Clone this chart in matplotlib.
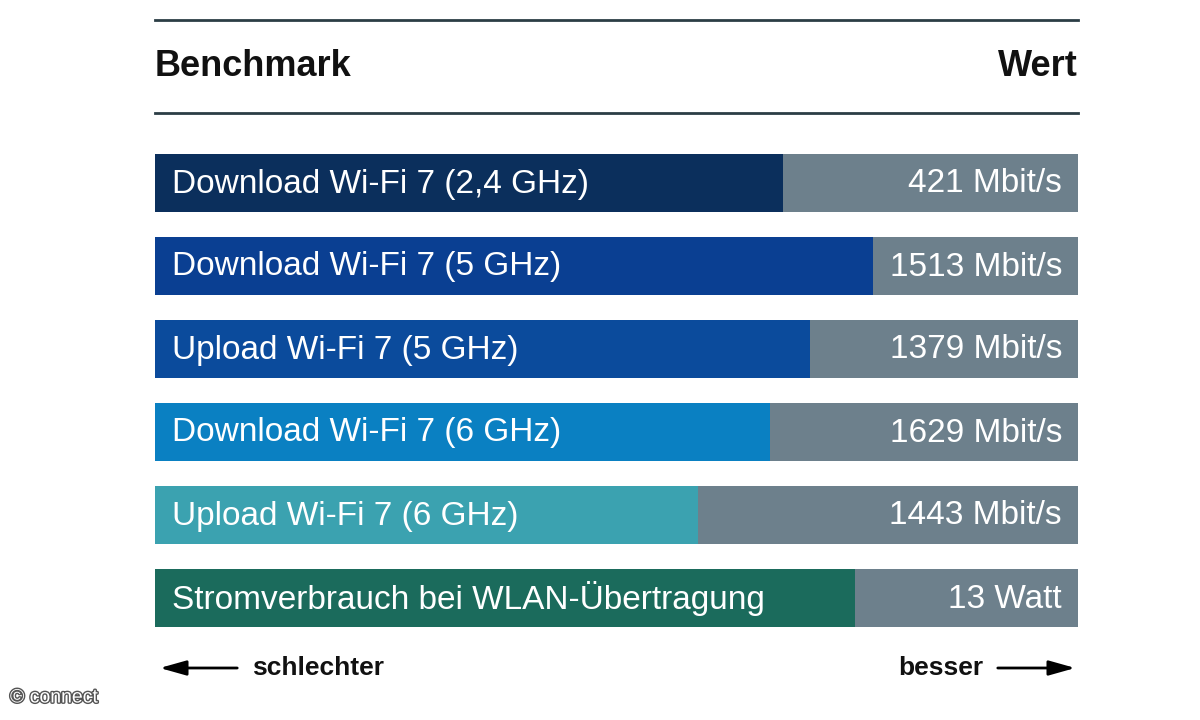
import matplotlib
matplotlib.use("Agg")
import matplotlib.pyplot as plt
from matplotlib import patheffects as pe

labels = ["Download Wi-Fi 7 (2,4 GHz)", "Download Wi-Fi 7 (5 GHz)", "Upload Wi-Fi 7 (5 GHz)",
          "Download Wi-Fi 7 (6 GHz)", "Upload Wi-Fi 7 (6 GHz)", "Stromverbrauch bei WLAN-Übertragung"]
values = ["421 Mbit/s", "1513 Mbit/s", "1379 Mbit/s", "1629 Mbit/s", "1443 Mbit/s", "13 Watt"]
scores = [0.680, 0.778, 0.710, 0.666, 0.588, 0.758]
colors = ["#0b2f5c", "#0a3f92", "#0b4b9c", "#0a80c2", "#3ba2b0", "#1b6b5c"]

FONT = "Liberation Sans"
fig = plt.figure(figsize=(12, 7.2), dpi=100)
ax = fig.add_axes([0, 0, 1, 1])
ax.set_xlim(0, 1200); ax.set_ylim(720, 0); ax.axis("off")

x0, x1 = 155, 1078
w = x1 - x0
for y in (20, 113):
    ax.plot([x0, x1], [y, y], color="#2b3d45", lw=2)
ax.text(x0, 67, "Benchmark", fontsize=26, fontweight="bold", family=FONT, va="center", ha="left", color="#111")
ax.text(x1, 67, "Wert", fontsize=26, fontweight="bold", family=FONT, va="center", ha="right", color="#111")

for i, (lab, val, s, c) in enumerate(zip(labels, values, scores, colors)):
    yc = 183 + i * 83
    ax.barh(yc, w, left=x0, height=58, color="#6d808c")
    ax.barh(yc, s * w, left=x0, height=58, color=c)
    ax.text(x0 + 17, yc + 1, lab, fontsize=24, family=FONT, color="white", va="center", ha="left")
    ax.text(x1 - 16, yc + 1, val, fontsize=24, family=FONT, color="white", va="center", ha="right")

ax.annotate("", xy=(157, 668), xytext=(240, 668),
            arrowprops=dict(arrowstyle="-|>,head_length=1.6,head_width=0.45", color="black", lw=2))
ax.annotate("", xy=(1078, 668), xytext=(995, 668),
            arrowprops=dict(arrowstyle="-|>,head_length=1.6,head_width=0.45", color="black", lw=2))
ax.text(252, 668, "schlechter", fontsize=19, fontweight="bold", family=FONT, va="center", ha="left", color="#111")
ax.text(983, 668, "besser", fontsize=19, fontweight="bold", family=FONT, va="center", ha="right", color="#111")
ax.text(10, 698, "© connect", fontsize=14, family=FONT, color="white", va="center", ha="left",
        path_effects=[pe.withStroke(linewidth=2, foreground="#555")])

fig.savefig("out.png", dpi=100, facecolor="white")
